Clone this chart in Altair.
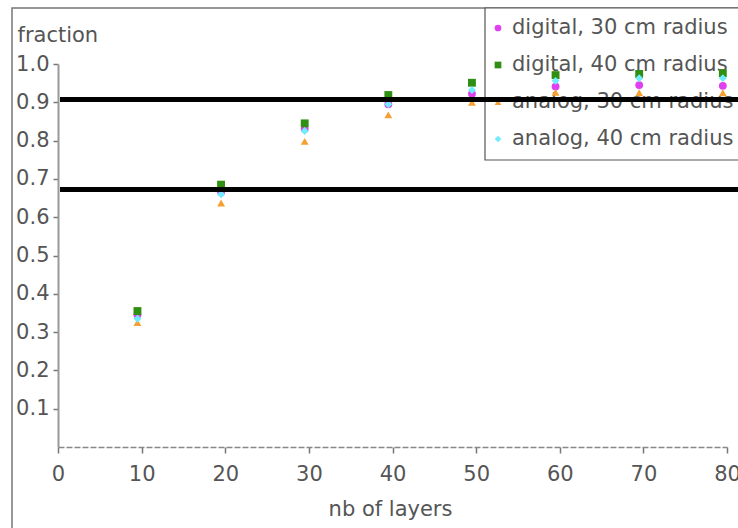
import altair as alt
import pandas as pd

# ---- data ----
layers = [9.5, 19.5, 29.5, 39.5, 49.5, 59.5, 69.5, 79.5]
series_names = ["digital, 30 cm radius", "digital, 40 cm radius",
                "analog, 30 cm radius", "analog, 40 cm radius"]
digital_30 = [0.345, 0.665, 0.830, 0.895, 0.922, 0.941, 0.945, 0.943]
digital_40 = [0.355, 0.685, 0.845, 0.919, 0.951, 0.971, 0.974, 0.976]
analog_30 = [0.325, 0.637, 0.798, 0.867, 0.900, 0.926, 0.925, 0.925]
analog_40 = [0.335, 0.660, 0.825, 0.895, 0.932, 0.956, 0.963, 0.963]
ref_levels = [0.907, 0.672]
x_ticks = [0, 10, 20, 30, 40, 50, 60, 70, 80]
y_ticks = [0.1, 0.2, 0.3, 0.4, 0.5, 0.6, 0.7, 0.8, 0.9, 1.0]

colors = ["#e040f0", "#2f8f12", "#f5a033", "#70ecff"]
shapes = ["circle", "square", "triangle-up", "diamond"]

rows = []
for name, vals in zip(series_names, [digital_30, digital_40, analog_30, analog_40]):
    for x, y in zip(layers, vals):
        rows.append({"series": name, "layers": x, "fraction": y})
df = pd.DataFrame(rows)
df_lines = pd.DataFrame({"level": ref_levels})

FONT = "DejaVu Sans"
GRAY = "#555555"
W, H = 669, 383

xscale = alt.Scale(domain=[0, 80], nice=False, zero=False)
yscale = alt.Scale(domain=[0, 1.0], nice=False)

# outer frame
frame = alt.Chart(pd.DataFrame({"a": [0]})).mark_rect(
    fill=None, stroke="#777777", strokeWidth=1.5, clip=False
).encode(x=alt.value(-46), x2=alt.value(720), y=alt.value(-56), y2=alt.value(500))

# legend box
legend_box = alt.Chart(pd.DataFrame({"a": [0]})).mark_rect(
    fill="white", stroke="#555555", strokeWidth=1.2, clip=False
).encode(x=alt.value(427), x2=alt.value(720), y=alt.value(-56), y2=alt.value(96))

legend_layers = []
for i, (name, col, shp) in enumerate(zip(series_names, colors, shapes)):
    ypix = -36 + 37 * i
    d = pd.DataFrame({"series": [name]})
    legend_layers.append(
        alt.Chart(d).mark_point(filled=True, opacity=1, size=45, shape=shp,
                                color=col, clip=False)
        .encode(x=alt.value(440), y=alt.value(ypix))
    )
    legend_layers.append(
        alt.Chart(d).mark_text(align="left", baseline="middle", font=FONT,
                               fontSize=21, color=GRAY, clip=False)
        .encode(x=alt.value(454), y=alt.value(ypix), text="series:N")
    )

points = alt.Chart(df).mark_point(filled=True, opacity=1, size=62).encode(
    x=alt.X("layers:Q", scale=xscale,
            axis=alt.Axis(values=x_ticks, format="d", grid=False, labelFlush=False,
                          tickSize=6, labelPadding=10,
                          labelFont=FONT, labelFontSize=21, labelColor=GRAY,
                          domainColor="#888888", domainWidth=1.5, domainDash=[6, 2],
                          tickColor="#777777", tickWidth=1.5,
                          title="nb of layers", titleFont=FONT, titleFontSize=21,
                          titleFontWeight="normal", titleColor=GRAY,
                          titleX=332, titleY=68, titleAlign="center",
                          titleBaseline="alphabetic")),
    y=alt.Y("fraction:Q", scale=yscale,
            axis=alt.Axis(values=y_ticks, format=".1f", grid=False, labelFlush=False,
                          tickSize=5, labelPadding=4,
                          labelFont=FONT, labelFontSize=21, labelColor=GRAY,
                          domainColor="#999999", domainWidth=2,
                          tickColor="#777777", tickWidth=1.5,
                          title="fraction", titleFont=FONT, titleFontSize=21,
                          titleFontWeight="normal", titleColor=GRAY,
                          titleAngle=0, titleX=-41, titleY=-23,
                          titleAlign="left", titleBaseline="alphabetic")),
    color=alt.Color("series:N", scale=alt.Scale(domain=series_names, range=colors),
                    legend=None),
    shape=alt.Shape("series:N", scale=alt.Scale(domain=series_names, range=shapes),
                    legend=None),
)

lines = alt.Chart(df_lines).mark_rule(color="black", strokeWidth=5, clip=False).encode(
    y=alt.Y("level:Q", scale=yscale),
    x=alt.value(2), x2=alt.value(720),
)

chart = alt.layer(frame, legend_box, *legend_layers, points, lines).properties(
    width=W, height=H,
    autosize=alt.AutoSizeParams(type="none"),
    padding={"left": 58, "top": 64, "right": 11, "bottom": 81},
    background="white",
).configure_view(stroke=None)

chart.save("out.html", embed_options={"renderer": "svg", "actions": False})
